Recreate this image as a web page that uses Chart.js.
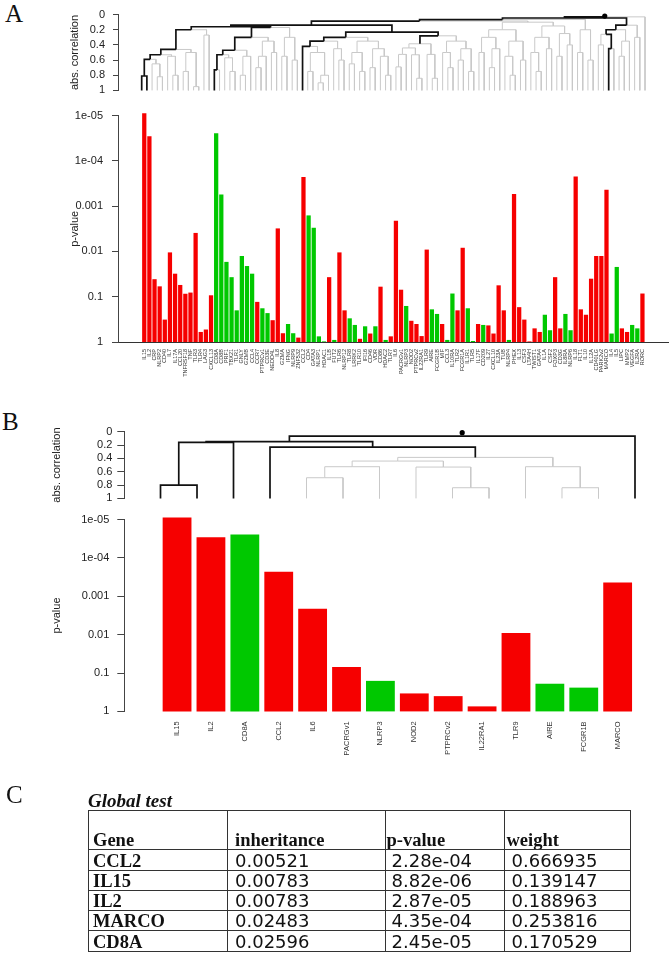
<!DOCTYPE html>
<html>
<head>
<meta charset="utf-8">
<title>Global test</title>
<script src="https://cdn.jsdelivr.net/npm/chart.js@4.4.1/dist/chart.umd.min.js"></script>
<style>
  body { margin: 0; background: #fff; }
  #page { position: relative; width: 672px; height: 954px; overflow: hidden; }
  #page canvas { position: absolute; left: 0; }
  .panel { position: absolute; font: 25px/25px "Liberation Serif", serif; color: #111; }
  #gtitle { position: absolute; left: 88px; top: 791px; font: italic bold 19px/19px "Liberation Serif", serif; color: #111; }
  #gt { position: absolute; left: 88px; top: 810px; width: 542px; border-collapse: collapse; table-layout: fixed; border: 1.5px solid #333; }
  #gt td { border: 1px solid #333; padding: 0; vertical-align: bottom; line-height: 18px; white-space: nowrap; overflow: hidden; color: #111; }
  #gt tr { height: 20.3px; }
  #gt tr.head { height: 39.3px; }
  #gt .txt { font: bold 18.5px/18px "Liberation Serif", serif; }
  #gt .num { font: 18px/18px "DejaVu Sans", sans-serif; }
</style>
</head>
<body>
<div id="page">
  <div class="panel" style="left:5px;top:1px">A</div>
  <canvas id="dendA" width="672" height="105" style="top:0px"></canvas>
  <canvas id="barsA" width="672" height="300" style="top:100px"></canvas>
  <div class="panel" style="left:2px;top:409px">B</div>
  <canvas id="dendB" width="672" height="90" style="top:420px"></canvas>
  <canvas id="barsB" width="672" height="290" style="top:505px"></canvas>
  <div class="panel" style="left:6px;top:782px">C</div>
  <div id="gtitle">Global test</div>
  <table id="gt"></table>
</div>
<script>
// ---- panel A: all genes, in dendrogram order ----
const genesA = ['IL15','IL2','CRP','NLRP2','CD40','IL7','IL17A','CCL20','TNFRSF18','TNF',
  'TLR3','TLR4','LAG3','CXCL13','CD8A','CD8B','PRF1','TBX21','TLR1','GNLY',
  'GZMB','CCL4','CCR7','PTPRCv1','CD3E','NEDD4L','IL8','GZMA','IFNG','NLRP9',
  'ZNF532','CCL2','CD4','GATA3','NLRP1','HDAC1','IL1B','FUT2','TLR6','NLRP12',
  'TLR8','LRRK2','TLR10','IFI16','CD46','VDR','CD86','HDAC2','TLR7','IL6',
  'PACRGv1','NLRP3','NOD2','PTPRCv2','IL22RA1','TLR9','AIRE','FCGR1B','MIF','CCL3',
  'IL10RA','TLR2','FCGR1A','IL1R1','TLR5','IL17F','CD209','IL27','CXCL10','IL23A',
  'TUB','NLRP4','PHEX','IL13','CSF3','LTA4H','TWIST1','GATA4','IL1A','CSF2',
  'FOXP3','CD3G','IL8RA','NLRP6','IL18','FLT1','IL10','IL12A','CD40LG','PARK2v2',
  'MARCO','IL4','IL5','LIPC','MMP2','VEGFA','IL2RA','RORC'];
const pValuesA = [8.82e-6, 2.87e-5, 0.041, 0.059, 0.32, 0.0105, 0.031, 0.055, 0.086, 0.081,
  0.0039, 0.6, 0.53, 0.093, 2.45e-5, 5.5e-4, 0.017, 0.037, 0.2, 0.0126,
  0.021, 0.031, 0.13, 0.18, 0.23, 0.33, 0.0031, 0.64, 0.4, 0.64,
  0.8, 2.28e-4, 0.0016, 0.003, 0.75, 0.97, 0.037, 0.9, 0.0105, 0.2,
  0.3, 0.42, 0.85, 0.45, 0.65, 0.45, 0.06, 0.9, 0.75, 0.0021,
  0.07, 0.16, 0.34, 0.4, 0.74, 0.0091, 0.19, 0.24, 0.4, 0.9,
  0.085, 0.2, 0.0083, 0.18, 0.95, 0.4, 0.42, 0.43, 0.65, 0.056,
  0.2, 0.9, 5.4e-4, 0.17, 0.32, 0.97, 0.5, 0.6, 0.25, 0.55,
  0.037, 0.5, 0.24, 0.55, 2.2e-4, 0.19, 0.25, 0.04, 0.0126, 0.0126,
  4.35e-4, 0.65, 0.022, 0.5, 0.6, 0.42, 0.5, 0.085];
// association direction: 1 = positive (red), -1 = negative (green)
const directionA = [1,1,1,1,1,1,1,1,1,1, 1,1,1,1,-1,-1,-1,-1,-1,-1,
  -1,-1,1,-1,-1,1,1,1,-1,-1, 1,1,-1,-1,-1,-1,1,-1,1,1,
  -1,-1,1,-1,1,-1,1,-1,1,1, 1,-1,1,1,1,1,-1,-1,1,-1,
  -1,1,1,-1,-1,1,-1,1,1,1, 1,-1,1,1,1,1,1,1,-1,-1,
  1,1,-1,-1,1,1,1,1,1,1, 1,-1,-1,1,1,-1,-1,1];

// ---- panel B: the selected subgraph ----
const genesB = ['IL15','IL2','CD8A','CCL2','IL6','PACRGv1','NLRP3','NOD2','PTPRCv2','IL22RA1','TLR9','AIRE','FCGR1B','MARCO'];
const pValuesB = [8.82e-6, 2.87e-5, 2.45e-5, 2.28e-4, 0.0021, 0.07, 0.16, 0.34, 0.4, 0.74, 0.0091, 0.19, 0.24, 4.35e-4];
const directionB = [1, 1, -1, 1, 1, 1, -1, 1, 1, 1, 1, -1, -1, 1];

const pTicks = [1e-5, 1e-4, 1e-3, 1e-2, 1e-1, 1];
const pTickLabels = ['1e-05', '1e-04', '0.001', '0.01', '0.1', '1'];
const corrTicks = [0, 0.2, 0.4, 0.6, 0.8, 1];
const corrTickLabels = ['0', '0.2', '0.4', '0.6', '0.8', '1'];

// ---- dendrograms: [abs. correlation height, left, right, significant] ; numbers are leaf indices ----
const sigLeavesA = [0, 1, 14, 31, 90];
const lefty1 = [0.81, 0, 1, 1];
const lefty2 = [0.59, lefty1, [0.65, 2, [0.82, 3, 4]], 1];
const lefty3 = [0.53, lefty2, [0.55, 5, [0.8, 6, 7]], 1];
const lefty4 = [0.46, lefty3, [0.5, [0.75, 8, 9], [0.95, 10, 11]], 1];
const lefty5 = [0.2, lefty4, [0.27, 12, 13], 1];
const cd8a1 = [0.73, 14, 15, 1];
const cd8a2 = [0.53, cd8a1, [0.57, 16, [0.75, 17, 18]], 1];
const cd8a3 = [0.47, cd8a2, [0.55, [0.8, 19, 20], 21], 1];
const cd8a4 = [0.3, cd8a3, [0.35, [0.55, [0.7, 22, 23], 24], [0.5, 25, 26]], 1];
const cd8a5 = [0.17, cd8a4, [0.3, [0.55, 27, 28], [0.6, 29, 30]], 1];
const ccl2a = [0.42, 31, [0.5, [0.75, 32, 33], [0.8, [0.9, 34, 35], 36]], 1];
const ccl2b = [0.35, ccl2a, [0.45, 37, [0.6, 38, 39]], 1];
const ccl2c = [0.3, ccl2b, [0.35, [0.5, [0.65, 40, 41], [0.75, 42, 43]], [0.45, [0.7, 44, 45], [0.55, 46, [0.8, 47, 48]]]], 1];
const il6grp = [0.385, [0.44, [0.525, [0.69, 49, 50], 51], [0.53, 52, [0.84, 53, 54]]], [0.525, 55, [0.84, 56, 57]], 1];
const il6grp2 = [0.28, il6grp, [0.35, [0.5, 58, [0.7, 59, 60]], [0.45, [0.6, 61, 62], [0.75, 63, 64]]], 1];
const ccl2d = [0.23, ccl2c, il6grp2, 1];
const rightGrp = [0.1, [0.2, [0.3, [0.5, 65, 66], [0.45, [0.7, 67, 68], 69]], [0.35, [0.55, 70, [0.8, 71, 72]], [0.6, 73, 74]]],
  [0.15, [0.3, [0.5, 75, [0.75, 76, 77]], [0.45, 78, 79]], [0.25, [0.55, 80, 81], [0.4, 82, 83]]]];
const rightGrp2 = [0.2, [0.5, 84, 85], [0.6, 86, 87]];
const marco1 = [0.45, 90, 91, 1];
const marco2 = [0.26, [0.4, 88, 89], marco1, 1];
const marco3 = [0.2, marco2, [0.35, [0.55, 92, 93], 94], 1];
const marco4 = [0.14, marco3, [0.3, 95, 96], 1];
const top1 = [0.16, lefty5, cd8a5, 1];
const top2 = [0.14, top1, ccl2d, 1];
const top3 = [0.085, top2, rightGrp, 1];
const top4 = [0.065, top3, rightGrp2, 1];
const top5 = [0.045, top4, marco4, 1];
const treeA = [0.03, top5, 97, 1];
const dotA = 0.02;

const sigLeavesB = [0, 1, 2, 3, 13];
const bPair = [0.8, 0, 1, 1];
const bLeft = [0.16, bPair, 2, 1];
const bMid = [0.385, [0.44, [0.525, [0.69, 4, 5], 6], [0.53, 7, [0.84, 8, 9]]], [0.525, 10, [0.84, 11, 12]], 1];
const bCcl2 = [0.23, 3, bMid, 1];
const bAll = [0.15, bLeft, bCcl2, 1];
const treeB = [0.065, bAll, 13, 1];
const dotB = 0.015;

// ---- table C ----
const tableHeader = ['Gene', 'inheritance', 'p-value', 'weight'];
const tableGenes = ['CCL2', 'IL15', 'IL2', 'MARCO', 'CD8A'];
const tableInheritance = ['0.00521', '0.00783', '0.00783', '0.02483', '0.02596'];
const tablePValue = ['2.28e-04', '8.82e-06', '2.87e-05', '4.35e-04', '2.45e-05'];
const tableWeight = ['0.666935', '0.139147', '0.188963', '0.253816', '0.170529'];

Chart.defaults.font.family = '"Liberation Sans", Arial, sans-serif';
Chart.defaults.color = '#333';

const RED = '#f60000', GREEN = '#00c800';

// walk the tree, collect the black (significant) and grey branch lines
function dendroLines(tree, sigLeaves) {
    const black = [], grey = [];
    function walk(node) {
        if (typeof node === 'number') return { x: node, h: 1, sig: sigLeaves.includes(node) };
        const a = walk(node[1]), b = walk(node[2]);
        const h = node[0], x = (a.x + b.x) / 2;
        (a.sig ? black : grey).push({x: a.x, y: a.h}, {x: a.x, y: h}, {x: x, y: h}, {x: x, y: null});
        (b.sig ? black : grey).push({x: x, y: h}, {x: b.x, y: h}, {x: b.x, y: b.h}, {x: b.x, y: null});
        return { x: x, h: h, sig: !!node[3] };
    }
    const root = walk(tree);
    return { black, grey, root };
}

function dendroChart(id, tree, sigLeaves, dotH, o) {
    const d = dendroLines(tree, sigLeaves);
    new Chart(document.getElementById(id), {
        type: 'scatter',
        data: {
            datasets: [
                { data: [{x: d.root.x, y: dotH}], pointRadius: 2.6, pointBackgroundColor: '#000', pointBorderWidth: 0, showLine: false, clip: false },
                { data: d.black, showLine: true, borderColor: '#111', borderWidth: 1.7, pointRadius: 0, clip: false },
                { data: d.grey, showLine: true, borderColor: '#c9c9c9', borderWidth: 1, pointRadius: 0, clip: false }
            ]
        },
        options: {
            responsive: false, animation: false, events: [],
            layout: { padding: { top: o.padTop, bottom: o.padBottom, left: 0, right: o.padRight } },
            plugins: { legend: { display: false }, tooltip: { enabled: false } },
            scales: {
                x: { type: 'linear', display: false, min: o.xmin, max: o.xmax },
                y: {
                    type: 'linear', reverse: true, min: 0, max: 1,
                    afterBuildTicks: s => { s.ticks = corrTicks.map(v => ({ value: v })); },
                    afterFit: s => { s.width = o.axisX; },
                    grid: { drawOnChartArea: false, tickLength: o.tickLen, color: '#444' },
                    border: { color: '#444' },
                    ticks: { autoSkip: false, padding: o.tickPad, font: { size: o.tickSize }, color: '#222',
                             callback: (v, i) => corrTickLabels[i] },
                    title: { display: true, text: 'abs. correlation', font: { size: 11 }, color: '#222', padding: { top: o.titlePad, bottom: 0 } }
                }
            }
        }
    });
}

function barChart(id, genes, pvals, dirs, o) {
    new Chart(document.getElementById(id), {
        type: 'bar',
        data: {
            datasets: [{
                data: pvals.map((p, i) => ({ x: i, y: [p, 1] })),
                backgroundColor: dirs.map(v => v > 0 ? RED : GREEN),
                borderWidth: 0,
                barPercentage: o.barPct,
                categoryPercentage: 1,
                clip: false
            }]
        },
        options: {
            responsive: false, animation: false, events: [],
            layout: { padding: { top: o.padTop, bottom: 0, left: 0, right: o.padRight } },
            plugins: { legend: { display: false }, tooltip: { enabled: false } },
            scales: {
                x: {
                    type: 'linear', min: o.xmin, max: o.xmax,
                    afterBuildTicks: s => { s.ticks = genes.map((g, i) => ({ value: i })); },
                    afterFit: s => { s.height = o.labelBand; },
                    grid: { display: false, drawTicks: false },
                    border: { display: o.baseline, color: '#333' },
                    ticks: { autoSkip: false, minRotation: 90, maxRotation: 90, padding: o.labelPad,
                             font: { size: o.labelSize }, color: '#333', callback: v => genes[v] }
                },
                y: {
                    type: 'logarithmic', reverse: true, min: 1e-5, max: 1,
                    afterBuildTicks: s => { s.ticks = pTicks.map(v => ({ value: v })); },
                    afterFit: s => { s.width = o.axisX; },
                    grid: { drawOnChartArea: false, tickLength: o.tickLen, color: '#444' },
                    border: { color: '#444' },
                    ticks: { autoSkip: false, padding: o.tickPad, font: { size: 11 }, color: '#222',
                             callback: v => pTickLabels[pTicks.indexOf(v)] },
                    title: { display: true, text: 'p-value', font: { size: 11 }, color: '#222', padding: { top: o.titlePad, bottom: 0 } }
                }
            }
        }
    });
}

// panel A
dendroChart('dendA', treeA, sigLeavesA, dotA,
    { padTop: 9.3, padBottom: 7, padRight: 4, xmin: -4.567, xmax: 101.43, axisX: 118, tickLen: 5, tickPad: 8, tickSize: 11, titlePad: 68.4 });
barChart('barsA', genesA, pValuesA, directionA,
    { padTop: 13.3, padRight: 4, xmin: -4.567, xmax: 101.43, axisX: 118, tickLen: 6, tickPad: 9, titlePad: 68.4,
      barPct: 0.83, labelBand: 58, labelPad: 7, labelSize: 5.5, baseline: true });

// panel B
dendroChart('dendB', treeB, sigLeavesB, dotB,
    { padTop: 11.7, padBottom: 7.3, padRight: 12, xmin: -0.992, xmax: 13.685, axisX: 124.3, tickLen: 7, tickPad: 5, tickSize: 11, titlePad: 50.4 });
barChart('barsB', genesB, pValuesB, directionB,
    { padTop: 12.3, padRight: 12, xmin: -0.992, xmax: 13.685, axisX: 124.3, tickLen: 7, tickPad: 8, titlePad: 50.4,
      barPct: 0.85, labelBand: 83.6, labelPad: 10, labelSize: 7.5, baseline: false });

// panel C: the table
const colWidths = [139, 157.5, 119, 126.5];
const headPad = [4, 7, 1, 2];
const cellPad = [4, 7, 6, 7];
let html = '<colgroup>' + colWidths.map(w => `<col style="width:${w}px">`).join('') + '</colgroup>';
html += '<tr class="head">' + tableHeader.map((h, c) => `<td class="txt" style="padding-left:${headPad[c]}px">${h}</td>`).join('') + '</tr>';
tableGenes.forEach((g, r) => {
    html += '<tr>'
        + `<td class="txt" style="padding-left:${cellPad[0]}px">${g}</td>`
        + `<td class="num" style="padding-left:${cellPad[1]}px">${tableInheritance[r]}</td>`
        + `<td class="num" style="padding-left:${cellPad[2]}px">${tablePValue[r]}</td>`
        + `<td class="num" style="padding-left:${cellPad[3]}px">${tableWeight[r]}</td>`
        + '</tr>';
});
document.getElementById('gt').innerHTML = html;
</script>
</body>
</html>
